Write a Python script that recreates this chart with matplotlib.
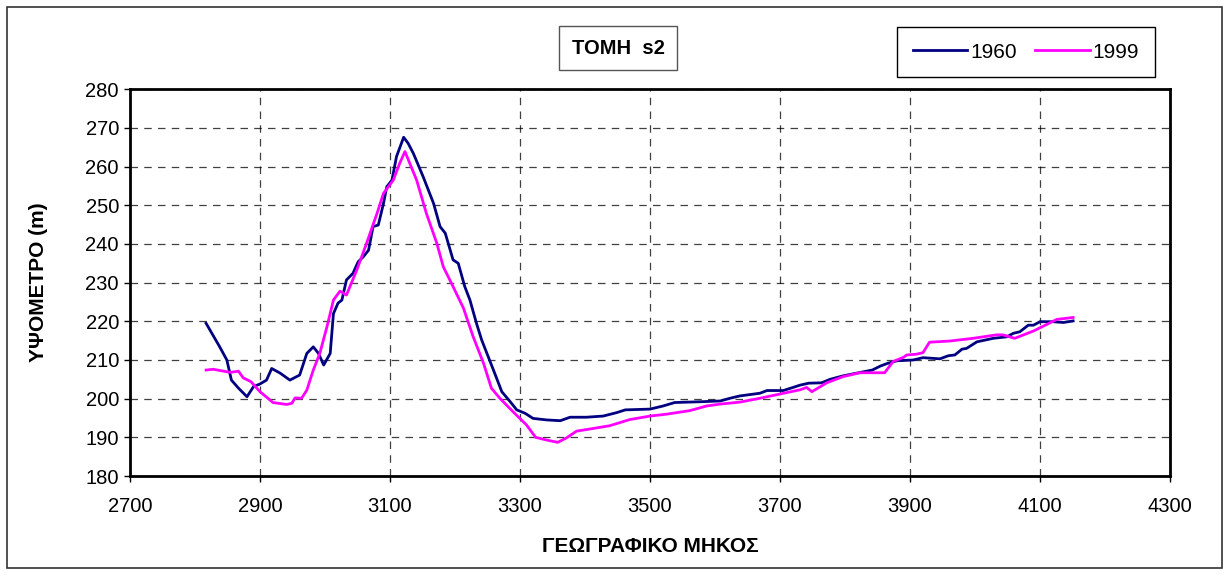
import numpy as np
import matplotlib.pyplot as plt
from matplotlib.patches import Rectangle

plt.rcParams['font.family'] = ['Liberation Sans', 'DejaVu Sans']

# 1960 profile
x_1960 = [2817, 2838, 2849, 2856, 2867, 2880, 2890, 2900, 2910, 2918, 2931, 2946,
          2961, 2972, 2982, 2990, 2998, 3008, 3013, 3020, 3026, 3033, 3043, 3051,
          3059, 3067, 3074, 3082, 3090, 3095, 3103, 3110, 3121, 3128, 3136, 3151,
          3167, 3177, 3185, 3197, 3205, 3215, 3223, 3233, 3241, 3251, 3261, 3272,
          3285, 3295, 3308, 3320, 3341, 3362, 3377, 3402, 3428, 3449, 3462, 3500,
          3520, 3538, 3577, 3608, 3623, 3638, 3669, 3680, 3705, 3720, 3731, 3744,
          3764, 3777, 3797, 3818, 3842, 3854, 3865, 3880, 3905, 3920, 3946, 3959,
          3969, 3980, 3987, 4003, 4028, 4049, 4059, 4069, 4082, 4090, 4100, 4120,
          4136, 4151]
y_1960 = [219.5, 213.4, 210, 204.8, 202.7, 200.5, 203.1, 203.8, 204.8, 207.8, 206.6, 204.8,
          206.1, 211.7, 213.4, 211.7, 208.7, 211.7, 222, 224.7, 225.5, 230.7, 232.4, 235.4,
          236.7, 238.4, 244.5, 244.9, 250.5, 254.8, 256.5, 262.6, 267.6, 266, 263.4, 257.4,
          250.5, 244.5, 242.8, 235.9, 235, 229, 225.5, 219.5, 215.2, 210.9, 206.6, 201.8,
          199.2, 197.1, 196.2, 194.9, 194.5, 194.3, 195.2, 195.2, 195.5, 196.4, 197.1, 197.3,
          198.1, 199, 199.2, 199.4, 200.1, 200.7, 201.4, 202.1, 202.1, 202.9, 203.5, 204,
          204.1, 205, 205.9, 206.6, 207.4, 208.4, 209.1, 209.8, 210, 210.6, 210.3, 211.1,
          211.3, 212.8, 213, 214.7, 215.6, 216, 216.9, 217.3, 219, 219, 219.9, 219.9,
          219.7, 220.1]

# 1999 profile
x_1999 = [2817, 2828, 2854, 2867, 2874, 2886, 2900, 2920, 2941, 2949, 2954, 2964,
          2972, 2982, 2992, 3003, 3013, 3023, 3033, 3049, 3064, 3080, 3090, 3105,
          3115, 3123, 3141, 3156, 3172, 3182, 3197, 3213, 3228, 3244, 3256, 3269,
          3290, 3310, 3324, 3341, 3358, 3372, 3387, 3413, 3438, 3469, 3500, 3526,
          3561, 3587, 3608, 3638, 3669, 3700, 3731, 3741, 3749, 3772, 3797, 3823,
          3861, 3874, 3890, 3895, 3910, 3920, 3930, 3961, 3997, 4033, 4043, 4061,
          4090, 4126, 4151]
y_1999 = [207.4, 207.6, 206.8, 207.1, 205.4, 204.4, 201.8, 199, 198.5, 198.8, 200.2, 200.1,
          202.2, 207.4, 211.7, 218.6, 225.5, 227.8, 226.8, 233.3, 240.2, 247.9, 253.1, 256.5,
          260.9, 263.9, 256.5, 247.9, 240.2, 234.1, 229, 223.4, 216, 209.1, 202.7, 200.1,
          196.5, 193.2, 190, 189.3, 188.7, 189.9, 191.6, 192.3, 193, 194.6, 195.5, 196,
          196.9, 198.1, 198.6, 199.1, 200.1, 201.2, 202.3, 202.9, 201.8, 204.1, 205.7, 206.7,
          206.7, 209.6, 210.7, 211.3, 211.5, 211.9, 214.6, 214.9, 215.6, 216.5, 216.5, 215.6,
          217.5, 220.5, 221]

x_ticks = np.arange(2700, 4301, 200)
y_ticks = np.arange(180, 281, 10)

W, H = 1229, 575
fig = plt.figure(figsize=(W / 100, H / 100), dpi=100)
ax = fig.add_axes([130 / W, 1 - 476 / H, 1040 / W, (476 - 89.3) / H])

ax.plot(x_1960, y_1960, color='#000080', lw=2, label='1960')
ax.plot(x_1999, y_1999, color='#FF00FF', lw=2, label='1999')

ax.set_xlim(2700, 4300)
ax.set_ylim(180, 280)
ax.set_xticks(x_ticks)
ax.set_yticks(y_ticks)
ax.tick_params(labelsize=14.5, length=4, width=1, direction='out')
ax.tick_params(axis='x', pad=11)
ax.tick_params(axis='y', pad=4)
ax.grid(True, color='black', linestyle=(0, (6, 5)), linewidth=0.9, alpha=0.75)
for s in ax.spines.values():
    s.set_linewidth(2)

ax.set_xlabel('ΓΕΩΓΡΑΦΙΚΟ ΜΗΚΟΣ', fontsize=15, fontweight='bold', labelpad=15)
ax.set_ylabel('ΥΨΟΜΕΤΡΟ (m)', fontsize=15, fontweight='bold', labelpad=27)

fig.text(618 / W, 1 - 48 / H, 'ΤΟΜΗ  s2', fontsize=14.5, fontweight='bold',
         ha='center', va='center',
         bbox=dict(boxstyle='square,pad=0.6', fc='white', ec='#555555', lw=1))

leg = ax.legend(loc='center', bbox_to_anchor=(1026 / W, 1 - 52 / H),
                bbox_transform=fig.transFigure, ncol=2, fontsize=15,
                fancybox=False, edgecolor='black', framealpha=1,
                handlelength=2.6, columnspacing=0.9, handletextpad=0.15,
                borderpad=0.75)
leg.get_frame().set_linewidth(1)

fig.patches.append(Rectangle((7 / W, 7 / H), 1215 / W, 561 / H, transform=fig.transFigure,
                             fill=False, ec='#333333', lw=1.2))

fig.savefig('out.png', dpi=100)
